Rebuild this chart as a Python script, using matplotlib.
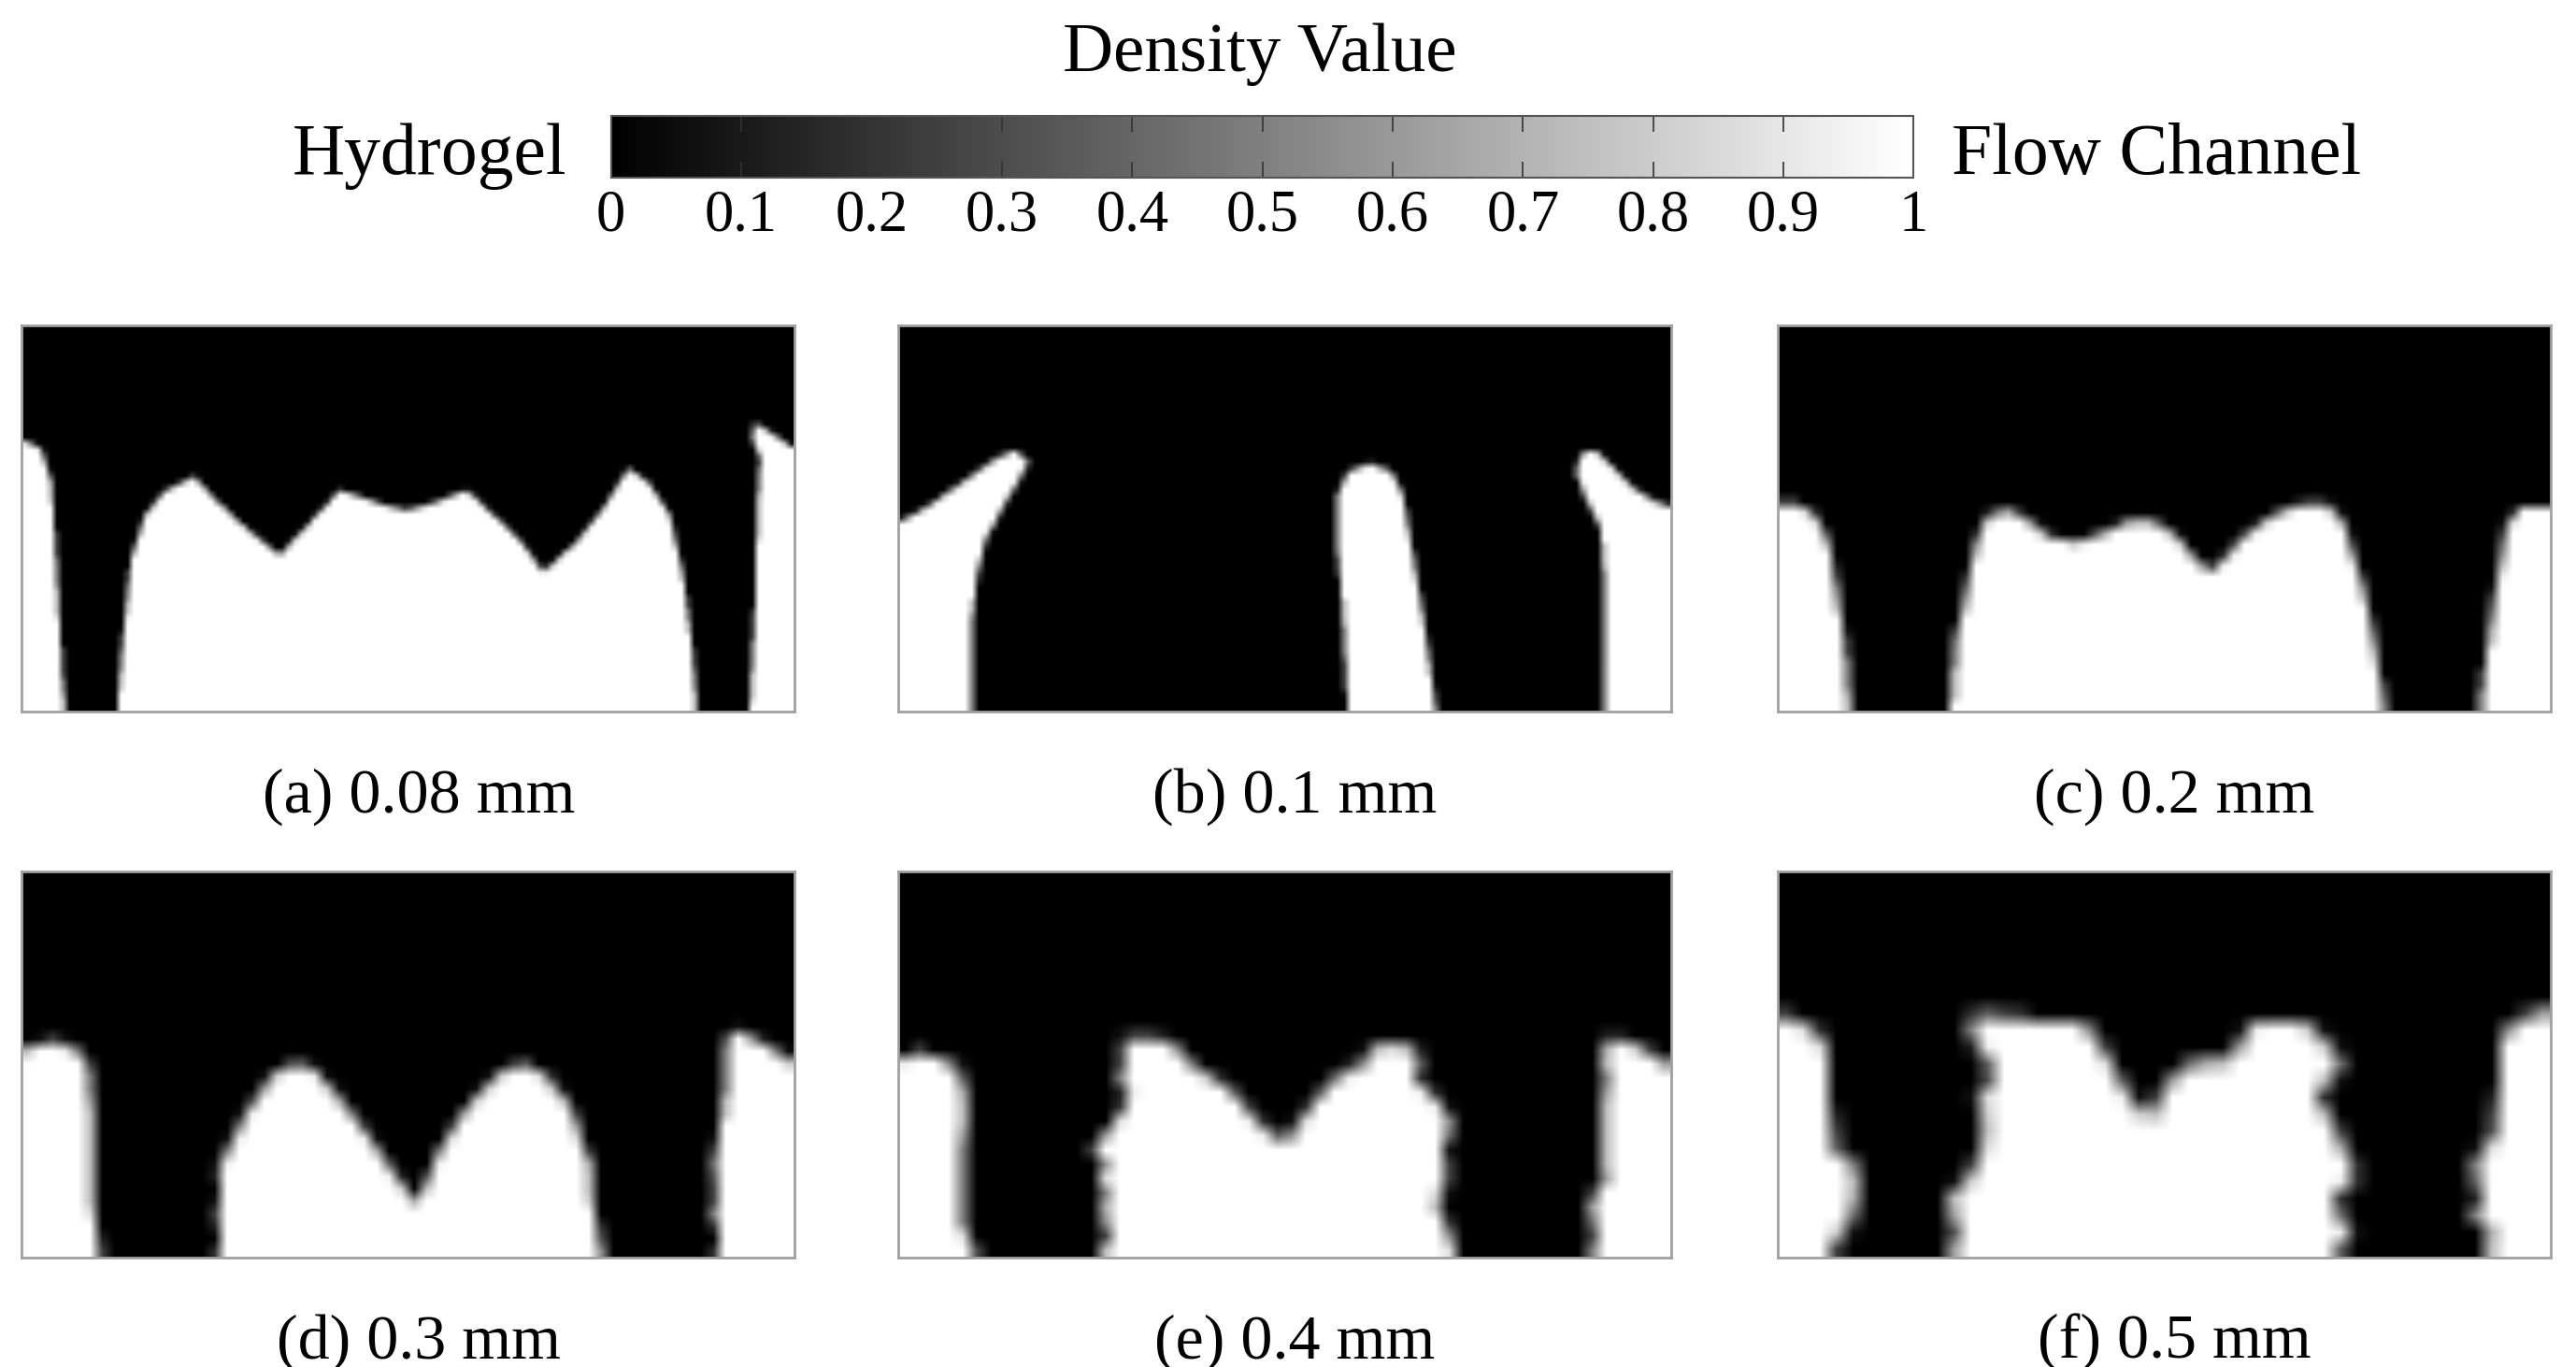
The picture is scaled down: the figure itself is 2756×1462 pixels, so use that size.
import matplotlib
matplotlib.use("Agg")
import matplotlib.pyplot as plt
import numpy as np
from matplotlib.path import Path
from matplotlib.cm import ScalarMappable
from matplotlib.colors import Normalize

plt.rcParams["font.family"] = ["Liberation Serif", "DejaVu Serif"]

# white (flow channel) regions per design, as outlines in
# percent of panel width (x) and percent of depth from the top (y)
design_a = [
    [(0, 29.8), (2.5, 32.0), (3.9, 40.6), (4.6, 64.8), (5.3, 90.8), (5.7, 100), (0, 100)],
    [(12.4, 100), (13.1, 82.1), (14.2, 60.5), (16.0, 49.3), (18.5, 43.2), (22.4, 39.3),
     (24.9, 44.9), (29.1, 52.7), (33.4, 59.6), (37.0, 51.9), (41.2, 42.8), (46.9, 46.7),
     (49.8, 48.0), (53.3, 46.2), (57.6, 42.8), (61.1, 49.3), (64.7, 56.2), (67.5, 64.0),
     (71.8, 56.2), (75.3, 47.5), (78.5, 37.2), (81.0, 40.6), (83.9, 49.3), (85.6, 64.8),
     (86.7, 82.1), (87.4, 100)],
    [(94.2, 100), (94.9, 73.5), (95.2, 47.5), (95.6, 34.6), (94.5, 29.4), (94.9, 25.5),
     (96.7, 27.7), (99.5, 31.5), (100, 31.5), (100, 100)],
]
design_b = [
    [(0, 51.1), (3.4, 47.6), (8.4, 40.7), (12.7, 34.6), (15.1, 32.5), (16.9, 35.5),
     (15.5, 40.7), (13.4, 47.6), (11.2, 56.3), (10.2, 64.9), (9.5, 77.9), (9.5, 100), (0, 100)],
    [(58.2, 100), (57.5, 73.6), (56.8, 56.3), (56.8, 44.2), (58.2, 38.1), (61.0, 35.9),
     (63.9, 38.1), (65.3, 44.2), (66.7, 60.6), (68.1, 77.9), (69.6, 100)],
    [(91.3, 100), (91.3, 64.9), (90.9, 52.8), (88.8, 44.2), (87.7, 38.1), (88.4, 33.3),
     (90.2, 32.5), (92.3, 36.4), (95.2, 42.4), (98.0, 45.9), (100, 47.2), (100, 100)],
]
design_c = [
    [(0, 46.7), (2.8, 46.7), (4.9, 49.3), (6.6, 56.2), (7.7, 69.1), (8.7, 82.1), (9.4, 100), (0, 100)],
    [(22.3, 100), (23.0, 82.1), (24.4, 69.1), (25.7, 56.2), (27.1, 49.3), (29.9, 48.0),
     (32.7, 51.0), (35.5, 55.3), (39.0, 56.2), (42.4, 53.6), (45.2, 51.0), (48.7, 51.0),
     (51.5, 54.5), (53.6, 59.6), (56.0, 64.0), (58.1, 59.6), (60.5, 54.5), (64.0, 49.3),
     (67.5, 46.7), (71.0, 46.7), (73.1, 51.0), (74.5, 59.6), (75.9, 69.1), (77.2, 82.1),
     (78.6, 100)],
    [(90.8, 100), (91.9, 82.1), (93.2, 64.8), (94.3, 51.9), (96.0, 47.5), (100, 47.5), (100, 100)],
]
design_d = [
    [(0, 46.6), (2.4, 44.8), (4.9, 44.4), (7.4, 46.6), (8.8, 50.9), (9.2, 63.8), (9.2, 76.7),
     (9.5, 89.7), (10.2, 100), (0, 100)],
    [(25.3, 100), (26.0, 94.0), (25.3, 89.7), (26.0, 81.0), (25.3, 77.6), (26.7, 72.4),
     (28.8, 63.8), (31.0, 56.9), (33.1, 51.7), (35.6, 50.0), (38.1, 51.7), (41.0, 58.6),
     (43.8, 65.5), (46.7, 74.1), (49.6, 81.9), (51.0, 86.2), (52.4, 81.0), (53.1, 76.7),
     (54.6, 70.7), (56.7, 63.8), (59.6, 56.9), (62.4, 51.7), (64.9, 50.0), (67.5, 52.6),
     (70.3, 58.6), (71.7, 63.8), (72.5, 70.7), (73.9, 76.7), (73.9, 85.3), (74.6, 94.0),
     (75.3, 100)],
    [(90.0, 100), (90.3, 94.0), (89.6, 89.7), (90.0, 81.0), (89.6, 76.7), (90.3, 68.1),
     (91.1, 55.2), (91.1, 44.0), (92.5, 41.4), (95.3, 44.0), (98.2, 47.4), (100, 50.0), (100, 100)],
]
design_e = [
    [(0, 49.0), (2.5, 47.3), (5.3, 48.2), (7.8, 51.6), (8.8, 58.3), (8.5, 71.0), (8.1, 83.7),
     (8.5, 92.1), (10.2, 100), (0, 100)],
    [(25.8, 100), (27.6, 94.7), (26.1, 87.9), (27.2, 83.7), (25.8, 79.5), (27.2, 76.1),
     (25.1, 71.9), (27.2, 67.6), (28.6, 62.6), (30.0, 59.2), (28.6, 54.1), (29.3, 49.9),
     (29.3, 44.0), (32.9, 43.1), (35.7, 44.8), (37.1, 49.0), (39.9, 52.4), (42.8, 56.6),
     (45.6, 62.6), (48.4, 68.5), (50.2, 70.2), (51.9, 65.1), (54.1, 59.2), (56.2, 54.1),
     (58.3, 51.6), (60.4, 49.9), (61.1, 45.6), (64.0, 44.8), (66.8, 45.6), (67.5, 49.9),
     (66.8, 54.1), (69.6, 59.2), (71.0, 62.6), (71.7, 66.8), (70.3, 71.0), (71.0, 76.1),
     (71.0, 81.2), (69.6, 85.4), (71.0, 92.1), (72.4, 100)],
    [(89.4, 100), (90.5, 94.7), (89.4, 87.9), (90.1, 83.7), (91.5, 79.5), (91.2, 71.0),
     (91.5, 54.1), (91.2, 45.6), (92.2, 43.1), (95.1, 44.8), (97.9, 48.2), (100, 50.7), (100, 100)],
]
design_f = [
    [(0, 37.1), (2.1, 38.8), (5.0, 41.4), (6.7, 46.6), (6.7, 59.5), (7.1, 72.4), (9.9, 75.0),
     (10.3, 81.0), (9.9, 89.7), (7.8, 94.8), (6.4, 100), (0, 100)],
    [(21.9, 100), (23.4, 94.8), (22.6, 89.7), (21.9, 85.3), (24.1, 81.0), (25.5, 76.7),
     (26.9, 69.0), (26.9, 63.8), (25.5, 60.3), (27.6, 55.2), (27.6, 50.0), (26.2, 46.6),
     (24.8, 41.4), (25.5, 37.1), (29.0, 37.9), (33.3, 38.8), (39.6, 38.8), (43.2, 50.0),
     (46.0, 60.3), (48.1, 63.8), (50.2, 55.2), (53.1, 50.0), (55.9, 49.1), (58.7, 48.3),
     (60.2, 43.1), (61.6, 38.8), (67.9, 38.8), (70.1, 43.1), (72.9, 48.3), (72.2, 53.4),
     (69.4, 56.9), (71.5, 63.8), (72.9, 70.7), (74.3, 75.0), (74.3, 81.0), (71.5, 85.3),
     (72.9, 89.7), (74.3, 94.0), (71.5, 100)],
    [(91.3, 100), (92.7, 94.8), (89.9, 89.7), (91.3, 85.3), (90.6, 81.0), (89.9, 75.9),
     (91.3, 72.4), (92.7, 68.1), (93.4, 55.2), (93.4, 43.1), (94.8, 40.5), (97.0, 37.9),
     (100, 35.3), (100, 100)],
]

designs = [design_a, design_b, design_c, design_d, design_e, design_f]
captions = ["(a) 0.08 mm", "(b) 0.1 mm", "(c) 0.2 mm",
            "(d) 0.3 mm", "(e) 0.4 mm", "(f) 0.5 mm"]
cbar_ticks = [0, 0.1, 0.2, 0.3, 0.4, 0.5, 0.6, 0.7, 0.8, 0.9, 1]
cbar_labels = ["0", "0.1", "0.2", "0.3", "0.4", "0.5", "0.6", "0.7", "0.8", "0.9", "1"]

# mesh size per panel (coarser mesh -> softer edges, like a larger filter)
mesh = [(120, 60), (110, 55), (72, 36), (62, 31), (54, 27), (46, 23)]


def density_field(polys, nx, ny, ss=4):
    xs = (np.arange(nx * ss) + 0.5) / (nx * ss) * 100
    ys = (np.arange(ny * ss) + 0.5) / (ny * ss) * 100
    X, Y = np.meshgrid(xs, ys)
    pts = np.column_stack([X.ravel(), Y.ravel()])
    inside = np.zeros(len(pts), dtype=bool)
    for poly in polys:
        inside |= Path(poly).contains_points(pts)
    fine = inside.reshape(ny * ss, nx * ss).astype(float)
    return fine.reshape(ny, ss, nx, ss).mean(axis=(1, 3))


fig = plt.figure(figsize=(27.56, 14.62), dpi=100)

lefts = [0.0085, 0.3487, 0.6902]
bottoms = [0.4795, 0.0803]
pw, ph = 0.300, 0.2825

for i, (polys, cap) in enumerate(zip(designs, captions)):
    row, col = divmod(i, 3)
    ax = fig.add_axes([lefts[col], bottoms[row], pw, ph])
    nx, ny = mesh[i]
    field = density_field(polys, nx, ny)
    ax.imshow(field, cmap="gray", vmin=0, vmax=1, extent=(0, 100, 100, 0),
              interpolation="bilinear", aspect="auto")
    ax.set_xticks([])
    ax.set_yticks([])
    for sp in ax.spines.values():
        sp.set_color("#a0a0a0")
        sp.set_linewidth(2)
    fig.text(lefts[col] + pw / 2 + 0.004, bottoms[row] - 0.0735, cap,
             ha="center", va="baseline", fontsize=49)

# colour bar
cax = fig.add_axes([0.2372, 0.870, 0.5057, 0.045])
sm = ScalarMappable(norm=Normalize(0, 1), cmap="gray")
cb = fig.colorbar(sm, cax=cax, orientation="horizontal")
cb.set_ticks(cbar_ticks)
cb.set_ticklabels(cbar_labels)
cb.outline.set_edgecolor("#555555")
cb.outline.set_linewidth(1.5)
cax.xaxis.set_ticks_position("both")
cax.tick_params(axis="x", direction="in", length=12, width=1.2, color="#333333",
                labelsize=45, pad=9, top=True, labeltop=False)

fig.text(0.489, 0.948, "Density Value", ha="center", va="baseline", fontsize=54)
fig.text(0.220, 0.873, "Hydrogel", ha="right", va="baseline", fontsize=56)
fig.text(0.7577, 0.873, "Flow Channel", ha="left", va="baseline", fontsize=56)

fig.savefig("out.png", dpi=100)
